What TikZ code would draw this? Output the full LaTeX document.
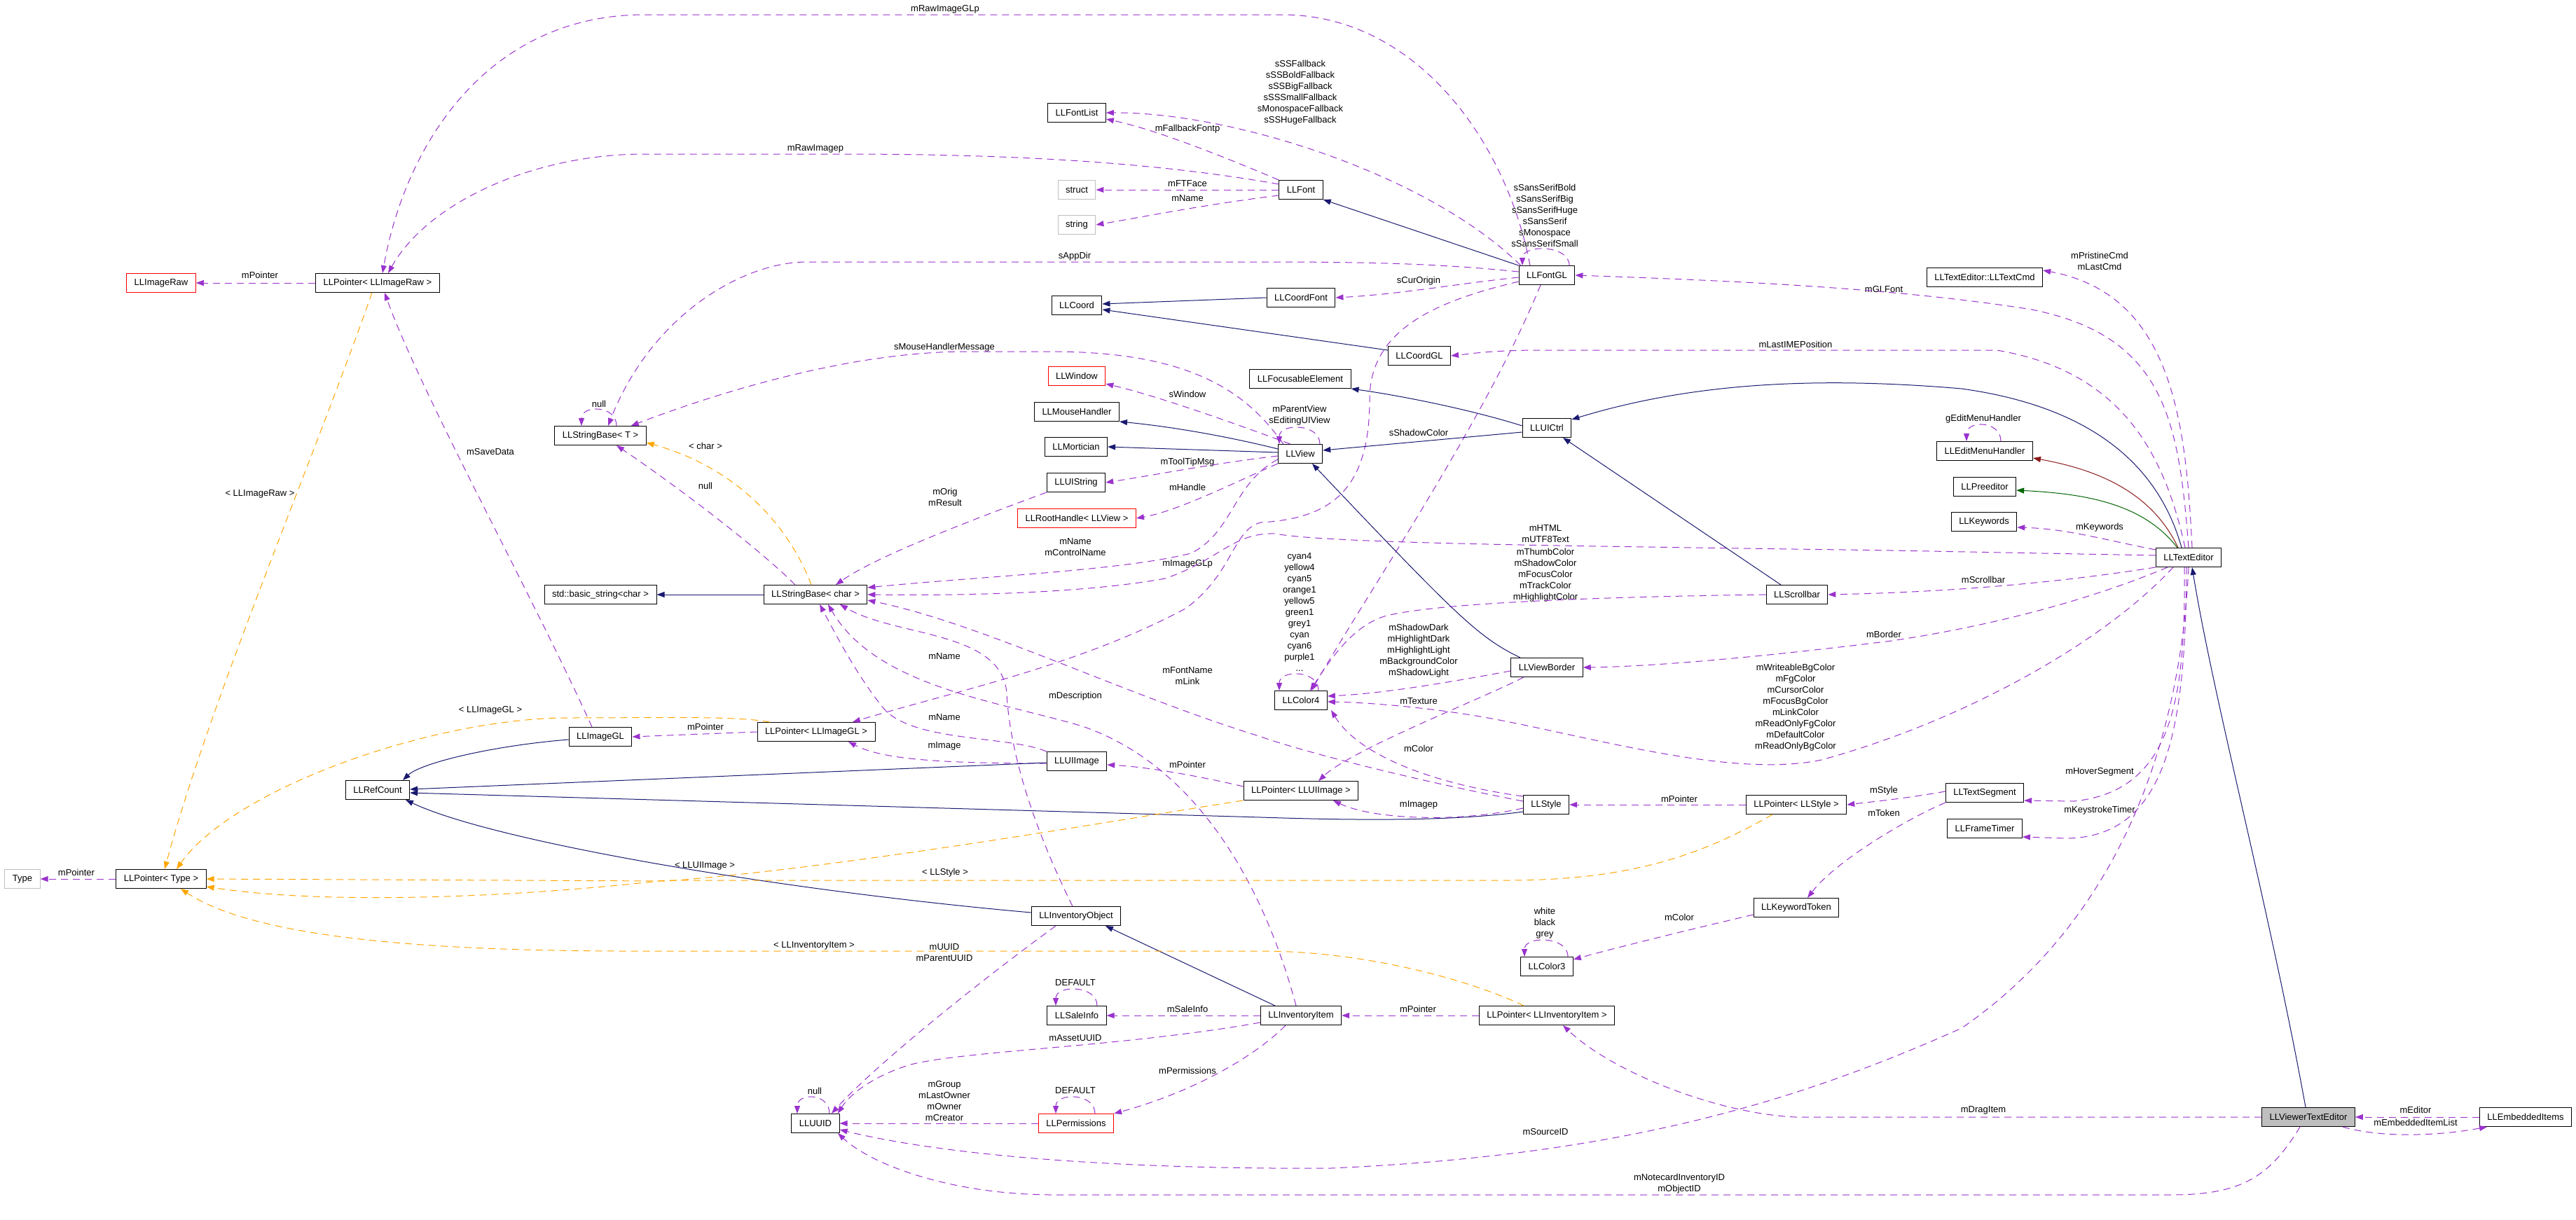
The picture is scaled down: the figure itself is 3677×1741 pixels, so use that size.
\documentclass[tikz,border=0pt]{standalone}
\usepackage{fontspec}
\setmainfont{Liberation Sans}
\usetikzlibrary{arrows.meta}
\definecolor{usecol}{HTML}{9A32CD}
\definecolor{inhcol}{HTML}{191970}
\definecolor{tplcol}{HTML}{FFA500}
\definecolor{protcol}{HTML}{8B1A1A}
\definecolor{privcol}{HTML}{006400}
\definecolor{extgray}{HTML}{BFBFBF}
\tikzset{
  collab/.style={x=1pt, y=-1pt, line width=1pt},
  cls/.style={draw, rectangle, fill=white, font=\fontsize{13}{16}\selectfont, inner xsep=11pt, inner ysep=0pt, minimum height=27pt},
  clsred/.style={cls, draw=red},
  clsext/.style={cls, draw=extgray},
  clsmain/.style={cls, fill=extgray},
  elbl/.style={font=\fontsize{13}{16}\selectfont, align=center, inner sep=0pt},
  collabtip/.style={-{Triangle[length=11pt,width=8pt]}},
  usedep/.style={draw=usecol, dash pattern=on 10pt off 7pt, collabtip},
  tmpl/.style={draw=tplcol, dash pattern=on 10pt off 7pt, collabtip},
  inh/.style={draw=inhcol, collabtip},
  inhprot/.style={draw=protcol, collabtip},
  inhpriv/.style={draw=privcol, collabtip},
}
\newcommand{\selfuse}[3]{\draw[usedep] ([xshift=#2pt]#1.north) .. controls ([xshift=#2pt,yshift=30pt]#1.north) and ([xshift=#3pt,yshift=30pt]#1.north) .. ([xshift=#3pt]#1.north);}

\begin{document}
\begin{tikzpicture}[collab]
  \fill[white] (0,0) rectangle (3677,1741);
  \useasboundingbox (0,0) rectangle (3677,1741);
  % classes
  \node[clsred] (imgraw) at (230,404) {LLImageRaw};
  \node[cls] (ptrraw) at (539,404) {LLPointer< LLImageRaw >};
  \node[cls] (fontlist) at (1537,161) {LLFontList};
  \node[clsext] (cstruct) at (1537,271) {struct};
  \node[clsext] (cstring) at (1537,321) {string};
  \node[cls] (coord) at (1537,436) {LLCoord};
  \node[clsred] (window) at (1537,537) {LLWindow};
  \node[cls] (mouse) at (1537,588) {LLMouseHandler};
  \node[cls] (mortician) at (1536,638) {LLMortician};
  \node[cls] (uistring) at (1536,689) {LLUIString};
  \node[clsred] (roothandle) at (1537,740) {LLRootHandle< LLView >};
  \node[cls] (font) at (1857,271) {LLFont};
  \node[cls] (fontgl) at (2208,393) {LLFontGL};
  \node[cls] (coordfont) at (1857,425) {LLCoordFont};
  \node[cls] (coordgl) at (2026,508) {LLCoordGL};
  \node[cls] (focus) at (1856,541) {LLFocusableElement};
  \node[cls] (view) at (1856,648) {LLView};
  \node[cls] (uictrl) at (2208,611) {LLUICtrl};
  \node[cls] (textcmd) at (2833,396) {LLTextEditor::LLTextCmd};
  \node[cls] (editmenu) at (2833,644) {LLEditMenuHandler};
  \node[cls] (preedit) at (2833,695) {LLPreeditor};
  \node[cls] (keywords) at (2832,745) {LLKeywords};
  \node[cls] (texted) at (3124,796) {LLTextEditor};
  \node[cls] (scrollbar) at (2565,849) {LLScrollbar};
  \node[cls] (sbaset) at (857,622) {LLStringBase< T >};
  \node[cls] (sbasechar) at (1164,849) {LLStringBase< char >};
  \node[cls] (stdstr) at (857,849) {std::basic\_string<char >};
  \node[cls] (color4) at (1857,1000) {LLColor4};
  \node[cls] (viewborder) at (2208,953) {LLViewBorder};
  \node[cls] (imagegl) at (857,1052) {LLImageGL};
  \node[cls] (ptrgl) at (1165,1045) {LLPointer< LLImageGL >};
  \node[cls] (uiimage) at (1537,1087) {LLUIImage};
  \node[cls] (ptrui) at (1857,1129) {LLPointer< LLUIImage >};
  \node[cls] (style) at (2207,1149) {LLStyle};
  \node[cls] (ptrstyle) at (2564,1149) {LLPointer< LLStyle >};
  \node[cls] (textseg) at (2833,1132) {LLTextSegment};
  \node[cls] (frametimer) at (2833,1183) {LLFrameTimer};
  \node[cls] (refcount) at (539,1128) {LLRefCount};
  \node[clsext] (ctype) at (32,1255) {Type};
  \node[cls] (ptrtype) at (230,1255) {LLPointer< Type >};
  \node[cls] (invobj) at (1536,1308) {LLInventoryObject};
  \node[cls] (kwtoken) at (2564,1296) {LLKeywordToken};
  \node[cls] (color3) at (2208,1380) {LLColor3};
  \node[cls] (saleinfo) at (1537,1450) {LLSaleInfo};
  \node[cls] (invitem) at (1857,1450) {LLInventoryItem};
  \node[cls] (ptrinv) at (2208,1450) {LLPointer< LLInventoryItem >};
  \node[cls] (uuid) at (1164,1604) {LLUUID};
  \node[clsred] (perms) at (1536,1604) {LLPermissions};
  \node[clsmain] (viewer) at (3295,1595) {LLViewerTextEditor};
  \node[cls] (embedded) at (3605,1595) {LLEmbeddedItems};

  % member labels
  \node[elbl] (lptrraw) at (371,393) {mPointer};
  \node[elbl] (lrawglp) at (1349,13) {mRawImageGLp};
  \node[elbl] (lrawp) at (1164,212) {mRawImagep};
  \node[elbl] (lsavedata) at (700,645) {mSaveData};
  \node[elbl] (lfallback) at (1856,132) {sSSFallback\\sSSBoldFallback\\sSSBigFallback\\sSSSmallFallback\\sMonospaceFallback\\sSSHugeFallback};
  \node[elbl] (lfallbackp) at (1695,184) {mFallbackFontp};
  \node[elbl] (lftface) at (1695,262) {mFTFace};
  \node[elbl] (lfname) at (1695,283) {mName};
  \node[elbl] (lappdir) at (1534,366) {sAppDir};
  \node[elbl] (lfontgl) at (2205,308) {sSansSerifBold\\sSansSerifBig\\sSansSerifHuge\\sSansSerif\\sMonospace\\sSansSerifSmall};
  \node[elbl] (lcurorigin) at (2025,401) {sCurOrigin};
  \node[elbl] (lglfont) at (2689,413) {mGLFont};
  \node[elbl] (limepos) at (2563,492) {mLastIMEPosition};
  \node[elbl] (lcmd) at (2997,373) {mPristineCmd\\mLastCmd};
  \node[elbl] (lmousemsg) at (1348,496) {sMouseHandlerMessage};
  \node[elbl] (lwindow) at (1695,563) {sWindow};
  \node[elbl] (lparent) at (1855,593) {mParentView\\sEditingUIView};
  \node[elbl] (lshadow) at (2025,618) {sShadowColor};
  \node[elbl] (lemenu) at (2831,598) {gEditMenuHandler};
  \node[elbl] (ltooltip) at (1695,660) {mToolTipMsg};
  \node[elbl] (lhandle) at (1695,696) {mHandle};
  \node[elbl] (lorig) at (1349,710) {mOrig\\mResult};
  \node[elbl] (lnullt) at (855,577) {null};
  \node[elbl] (lchar) at (1007,637) {< char >};
  \node[elbl] (lnullc) at (1007,694) {null};
  \node[elbl] (lctrlname) at (1535,781) {mName\\mControlName};
  \node[elbl] (limageglp) at (1695,805) {mImageGLp};
  \node[elbl] (lhtml) at (2206,762) {mHTML\\mUTF8Text};
  \node[elbl] (lthumb) at (2206,821) {mThumbColor\\mShadowColor\\mFocusColor\\mTrackColor\\mHighlightColor};
  \node[elbl] (lkeywords) at (2997,753) {mKeywords};
  \node[elbl] (lscrollbar) at (2831,828) {mScrollbar};
  \node[elbl] (lcolors) at (1855,874) {cyan4\\yellow4\\cyan5\\orange1\\yellow5\\green1\\grey1\\cyan\\cyan6\\purple1\\...};
  \node[elbl] (lborder) at (2689,906) {mBorder};
  \node[elbl] (lshadowdark) at (2025,929) {mShadowDark\\mHighlightDark\\mHighlightLight\\mBackgroundColor\\mShadowLight};
  \node[elbl] (lwriteable) at (2563,1010) {mWriteableBgColor\\mFgColor\\mCursorColor\\mFocusBgColor\\mLinkColor\\mReadOnlyFgColor\\mDefaultColor\\mReadOnlyBgColor};
  \node[elbl] (lmname1) at (1348,937) {mName};
  \node[elbl] (lfontname) at (1695,965) {mFontName\\mLink};
  \node[elbl] (ldesc) at (1535,994) {mDescription};
  \node[elbl] (ltexture) at (2025,1001) {mTexture};
  \node[elbl] (lmname2) at (1348,1024) {mName};
  \node[elbl] (lptrgl) at (1007,1038) {mPointer};
  \node[elbl] (limage) at (1348,1065) {mImage};
  \node[elbl] (lcolor) at (2025,1069) {mColor};
  \node[elbl] (lptrui) at (1695,1092) {mPointer};
  \node[elbl] (lhover) at (2997,1102) {mHoverSegment};
  \node[elbl] (lstyle) at (2689,1129) {mStyle};
  \node[elbl] (lptrstyle) at (2397,1141) {mPointer};
  \node[elbl] (limagep) at (2025,1149) {mImagep};
  \node[elbl] (lkeystroke) at (2997,1157) {mKeystrokeTimer};
  \node[elbl] (ltoken) at (2689,1161) {mToken};
  \node[elbl] (lgltpl) at (700,1014) {< LLImageGL >};
  \node[elbl] (lrawtpl) at (371,705) {< LLImageRaw >};
  \node[elbl] (luitpl) at (1006,1236) {< LLUIImage >};
  \node[elbl] (lptrtype) at (109,1246) {mPointer};
  \node[elbl] (lstyletpl) at (1349,1246) {< LLStyle >};
  \node[elbl] (lwbg) at (2205,1318) {white\\black\\grey};
  \node[elbl] (lkwcolor) at (2397,1310) {mColor};
  \node[elbl] (linvtpl) at (1162,1350) {< LLInventoryItem >};
  \node[elbl] (luuid) at (1348,1360) {mUUID\\mParentUUID};
  \node[elbl] (lsaledef) at (1535,1403) {DEFAULT};
  \node[elbl] (lsaleinfo) at (1695,1441) {mSaleInfo};
  \node[elbl] (lptrinv) at (2024,1441) {mPointer};
  \node[elbl] (lasset) at (1535,1482) {mAssetUUID};
  \node[elbl] (lperms) at (1695,1529) {mPermissions};
  \node[elbl] (lgroup) at (1348,1572) {mGroup\\mLastOwner\\mOwner\\mCreator};
  \node[elbl] (lpermdef) at (1535,1557) {DEFAULT};
  \node[elbl] (lnulluuid) at (1163,1558) {null};
  \node[elbl] (ldrag) at (2831,1585) {mDragItem};
  \node[elbl] (leditor) at (3448,1585) {mEditor};
  \node[elbl] (lembedded) at (3448,1603) {mEmbeddedItemList};
  \node[elbl] (lsource) at (2206,1616) {mSourceID};
  \node[elbl] (lnotecard) at (2397,1690) {mNotecardInventoryID\\mObjectID};

  % raw images
  \draw[usedep] (ptrraw) -- (imgraw);
  \draw[usedep] ([xshift=-24pt]fontgl.north) .. controls (2150,200) and (2020,21) .. (1830,21) -- (920,21) .. controls (700,21) and (580,200) .. ([xshift=7pt]ptrraw.north);
  \draw[usedep] ([yshift=8pt]font.west) .. controls (1650,232) and (1450,220) .. (1200,220) -- (920,220) .. controls (760,220) and (610,290) .. ([xshift=15pt]ptrraw.north);
  \draw[usedep] ([xshift=-12pt]imagegl.north) .. controls (760,850) and (600,560) .. ([xshift=10pt]ptrraw.south);

  % fonts
  \draw[usedep] ([xshift=3pt]fontgl.north west) .. controls (2040,250) and (1760,160) .. (fontlist.east);
  \draw[usedep] (font.north west) .. controls (1750,225) and (1650,185) .. ([yshift=-9pt]fontlist.east);
  \draw[usedep] (font.west) -- (cstruct.east);
  \draw[usedep] ([yshift=-8pt]font.west) .. controls (1720,292) and (1630,310) .. (cstring.east);
  \draw[usedep] ([yshift=5pt]fontgl.west) .. controls (2050,376) and (1950,374) .. (1800,374) -- (1152,374) .. controls (1060,374) and (930,450) .. ([xshift=11pt]sbaset.north);
  \draw[usedep] ([yshift=-3pt]fontgl.west) .. controls (2080,405) and (2000,420) .. (coordfont.east);
  \draw[usedep] ([yshift=-9pt]fontgl.west) .. controls (2050,430) and (1955,470) .. (1955,570) .. controls (1955,700) and (1900,740) .. (1800,746) .. controls (1760,755) and (1760,820) .. (1692,869) .. controls (1540,950) and (1370,985) .. ([xshift=52pt]ptrgl.north);
  \draw[usedep] ([xshift=-9pt]fontgl.south) .. controls (2120,600) and (1950,850) .. ([xshift=15pt]color4.north);
  \selfuse{fontgl}{32}{-35}
  \draw[inh] (fontgl.north west) -- (font.south east);
  \draw[inh] (coordfont.west) -- ([yshift=2pt]coord.east);
  \draw[inh] ([yshift=8pt]coordgl.west) -- ([yshift=-6pt]coord.east);

  % text editor
  \draw[usedep] (texted.north) .. controls (3110,600) and (3090,480) .. (2900,442) .. controls (2700,410) and (2450,400) .. (fontgl.east);
  \draw[usedep] ([xshift=-5pt]texted.north) .. controls (3090,650) and (3030,530) .. (2850,500) -- (2200,500) .. controls (2130,500) and (2100,505) .. (coordgl.east);
  \draw[usedep] ([xshift=5pt]texted.north) .. controls (3120,600) and (3100,420) .. ([yshift=10pt]textcmd.east);
  \draw[inhprot] ([xshift=-15pt]texted.north) .. controls (3070,700) and (2990,670) .. ([yshift=-10pt]editmenu.east);
  \draw[inhpriv] ([xshift=-16pt]texted.north) .. controls (3060,720) and (2980,705) .. ([yshift=-5pt]preedit.east);
  \draw[inh] ([xshift=-10pt]texted.north) .. controls (3080,660) and (2980,580) .. (2800,555) .. controls (2600,538) and (2420,545) .. ([yshift=-2pt]uictrl.north east);
  \selfuse{editmenu}{23}{-26}
  \draw[usedep] ([yshift=-3pt]texted.north west) .. controls (3000,770) and (2950,755) .. ([yshift=-8pt]keywords.east);
  \draw[usedep] ([yshift=3pt]texted.west) -- (2700,786) .. controls (2300,780) and (1900,777) .. (1820,762) .. controls (1760,760) and (1740,800) .. (1663,826) .. controls (1560,845) and (1400,851) .. (sbasechar.east);
  \draw[usedep] (texted.south west) .. controls (2950,830) and (2800,845) .. (scrollbar.east);
  \draw[usedep] ([xshift=-30pt]texted.south) .. controls (2950,870) and (2800,900) .. (2700,915) .. controls (2500,940) and (2350,952) .. (viewborder.east);
  \draw[usedep] ([xshift=-22pt]texted.south) .. controls (3000,920) and (2800,1030) .. (2600,1085) .. controls (2480,1110) and (2300,1060) .. (2150,1030) .. controls (2050,1010) and (1950,1003) .. ([yshift=-2pt]color4.east);
  \draw[usedep] ([xshift=-6pt]texted.south) .. controls (3120,1000) and (3100,1130) .. (2960,1144) -- ([yshift=-11pt]textseg.east);
  \draw[usedep] ([xshift=-3pt]texted.south) .. controls (3120,1050) and (3090,1195) .. (2950,1197) -- ([yshift=-12pt]frametimer.east);
  \draw[usedep] (texted.south) .. controls (3110,1100) and (3000,1330) .. (2800,1468) .. controls (2550,1580) and (2300,1650) .. (1900,1668) .. controls (1600,1670) and (1350,1650) .. ([yshift=-9pt]uuid.east);

  % viewer text editor
  \draw[inh] ([xshift=-4pt]viewer.north) .. controls (3240,1300) and (3160,1000) .. ([xshift=5pt]texted.south);
  \draw[usedep] (embedded) -- (viewer);
  \draw[usedep] ([xshift=-18pt]viewer.south east) .. controls (3400,1625) and (3480,1622) .. ([xshift=-55pt]embedded.south);
  \draw[usedep] (viewer.west) -- (2563,1595) .. controls (2450,1590) and (2300,1530) .. ([xshift=23pt]ptrinv.south);
  \draw[usedep] ([xshift=-12pt]viewer.south) .. controls (3240,1680) and (3200,1706) .. (3100,1706) -- (1500,1706) .. controls (1350,1705) and (1240,1660) .. ([xshift=32pt]uuid.south);

  % segments and styles
  \draw[usedep] ([yshift=2pt]textseg.west) .. controls (2720,1140) and (2680,1144) .. (ptrstyle.east);
  \draw[usedep] (textseg.south west) .. controls (2720,1170) and (2620,1230) .. ([xshift=16pt]kwtoken.north);
  \draw[usedep] ([yshift=-10pt]kwtoken.west) .. controls (2400,1330) and (2300,1355) .. ([yshift=10pt]color3.east);
  \selfuse{color3}{30}{-32}
  \draw[usedep] (ptrstyle) -- (style);
  \draw[usedep] ([yshift=-5pt]style.west) .. controls (2080,1175) and (1960,1170) .. ([xshift=46pt]ptrui.south);
  \draw[usedep] ([yshift=12pt]style.west) .. controls (2050,1120) and (1940,1080) .. ([xshift=43pt]color4.south);
  \draw[usedep] ([yshift=5pt]style.west) .. controls (2000,1110) and (1850,1070) .. (1800,1052) .. controls (1600,990) and (1400,890) .. ([yshift=-8pt]sbasechar.east);

  % views and controls
  \draw[inh] ([yshift=-6pt]uictrl.west) -- ([yshift=5pt]view.east);
  \draw[inh] ([yshift=3pt]uictrl.west) .. controls (2100,585) and (2000,565) .. (focus.south east);
  \draw[inh] ([xshift=-23pt]scrollbar.north) -- ([xshift=23pt]uictrl.south);
  \draw[inh] ([xshift=-38pt]viewborder.north) .. controls (2110,910) and (2080,880) .. ([xshift=17pt]view.south);
  \draw[inh] ([yshift=7pt]view.west) .. controls (1760,625) and (1680,610) .. (mouse.south east);
  \draw[inh] ([yshift=2pt]view.west) -- (mortician.east);
  \selfuse{view}{28}{-30}
  \draw[usedep] ([xshift=8pt]view.north west) .. controls (1780,560) and (1700,502) .. (1500,502) -- (1380,502) .. controls (1200,502) and (1000,570) .. ([xshift=-22pt]sbaset.north east);
  \draw[usedep] ([xshift=18pt]view.north west) .. controls (1750,600) and (1650,565) .. ([yshift=3pt]window.south east);
  \draw[usedep] ([yshift=-3pt]view.west) .. controls (1730,662) and (1650,678) .. (uistring.east);
  \draw[usedep] (view.south west) .. controls (1760,690) and (1680,730) .. (roothandle.east);
  \draw[usedep] ([yshift=-8pt]view.west) .. controls (1760,690) and (1760,760) .. (1700,790) .. controls (1600,815) and (1400,823) .. ([yshift=10pt]sbasechar.east);
  \draw[usedep] (uistring.south west) .. controls (1380,745) and (1250,795) .. ([xshift=29pt]sbasechar.north);

  % strings
  \draw[inh] (sbasechar) -- (stdstr);
  \draw[usedep] ([xshift=-29pt]sbasechar.north) .. controls (1080,780) and (960,690) .. ([xshift=23pt]sbaset.south);
  \draw[tmpl] ([xshift=-6pt]sbasechar.north) .. controls (1130,760) and (1060,670) .. ([yshift=-10pt]sbaset.east);
  \selfuse{sbaset}{23}{-27}
  \draw[usedep] ([xshift=-5pt]invobj.north) .. controls (1460,1150) and (1440,1050) .. (1437,990) .. controls (1430,900) and (1280,910) .. ([xshift=35pt]sbasechar.south);
  \draw[usedep] ([xshift=-7pt]invitem.north) .. controls (1800,1250) and (1700,1090) .. (1545,1037) .. controls (1420,1000) and (1250,980) .. ([xshift=18pt]sbasechar.south);
  \draw[usedep] (uiimage.north west) .. controls (1440,1050) and (1300,1060) .. (1260,1010) .. controls (1220,960) and (1190,900) .. ([xshift=6pt]sbasechar.south);

  % images and colours
  \draw[usedep] (ptrgl.west) -- (imagegl.east);
  \draw[usedep] ([yshift=-3pt]uiimage.west) .. controls (1350,1090) and (1260,1085) .. ([xshift=46pt]ptrgl.south);
  \draw[usedep] ([yshift=6pt]ptrui.west) .. controls (1720,1110) and (1640,1095) .. ([yshift=-5pt]uiimage.east);
  \draw[usedep] ([yshift=-5pt]viewborder.west) .. controls (2080,972) and (1980,990) .. ([yshift=6pt]color4.east);
  \draw[usedep] (scrollbar.west) .. controls (2300,852) and (2050,860) .. (1976,880) .. controls (1930,895) and (1900,940) .. ([xshift=13pt]color4.north);
  \selfuse{color4}{25}{-31}
  \draw[usedep] ([xshift=-33pt]viewborder.south) .. controls (2110,1000) and (1930,1070) .. ([xshift=25pt]ptrui.north);

  % ref counted
  \draw[inh] ([yshift=-4pt]imagegl.west) .. controls (700,1065) and (600,1090) .. ([xshift=36pt]refcount.north);
  \draw[inh] ([yshift=-2pt]uiimage.west) -- ([yshift=1pt]refcount.east);
  \draw[inh] ([yshift=-10pt]style.west) .. controls (2080,1172) and (1950,1172) .. (1800,1167) -- ([yshift=-4pt]refcount.east);
  \draw[inh] ([yshift=5pt]invobj.west) .. controls (1100,1270) and (700,1200) .. ([xshift=40pt]refcount.south);
  \draw[inh] ([xshift=-37pt]invitem.north) -- ([xshift=42pt]invobj.south);

  % template instances
  \draw[tmpl] ([xshift=-8pt]ptrraw.south) .. controls (450,650) and (300,1000) .. ([xshift=5pt]ptrtype.north);
  \draw[tmpl] ([xshift=-66pt]ptrgl.north) .. controls (1050,1022) and (950,1025) .. (800,1025) .. controls (600,1030) and (330,1130) .. ([xshift=22pt]ptrtype.north);
  \draw[tmpl] ([xshift=-83pt]ptrui.south) .. controls (1600,1170) and (1200,1240) .. (950,1258) -- (ptrtype.east);
  \draw[tmpl] ([xshift=-34pt]ptrstyle.south) .. controls (2430,1220) and (2330,1257) .. (2150,1257) -- (950,1257) .. controls (700,1285) and (450,1290) .. ([yshift=-11pt]ptrtype.east);
  \draw[tmpl] ([xshift=-33pt]ptrinv.north) .. controls (2100,1400) and (1950,1358) .. (1800,1358) -- (900,1358) .. controls (550,1358) and (350,1330) .. ([xshift=28pt]ptrtype.south);
  \draw[usedep] (ptrtype) -- (ctype);

  % inventory
  \draw[usedep] (invitem) -- (saleinfo);
  \draw[usedep] ([yshift=-10pt]invitem.west) .. controls (1600,1495) and (1380,1500) .. (1300,1520) .. controls (1250,1535) and (1215,1560) .. ([xshift=-3pt]uuid.north east);
  \draw[usedep] ([xshift=-22pt]invitem.south) .. controls (1790,1510) and (1700,1560) .. (perms.north east);
  \draw[usedep] (perms) -- (uuid);
  \draw[usedep] ([xshift=-29pt]invobj.south) .. controls (1400,1400) and (1250,1520) .. ([xshift=23pt]uuid.north);
  \selfuse{uuid}{20}{-26}
  \selfuse{saleinfo}{29}{-30}
  \selfuse{perms}{27}{-29}
  \draw[usedep] (ptrinv) -- (invitem);
\end{tikzpicture}
\end{document}
